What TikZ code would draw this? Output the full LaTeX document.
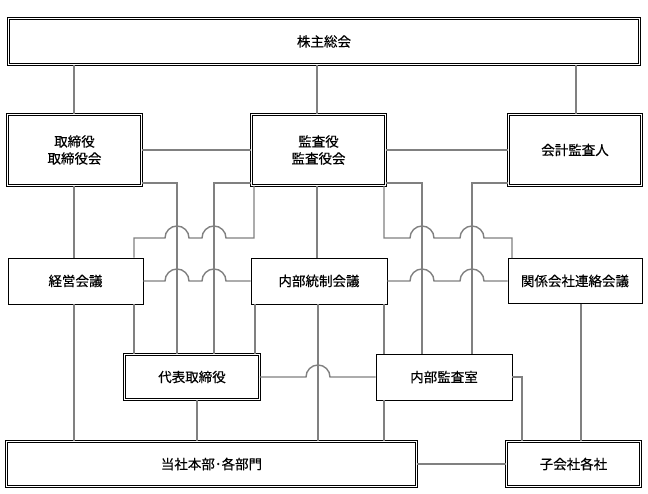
\documentclass[tikz,border=0pt]{standalone}
\usepackage{fontspec}
\setmainfont{Noto Sans CJK JP}[FakeBold=0.4]
\usepackage{tikz}
\usetikzlibrary{calc}

\begin{document}
\begin{tikzpicture}[x=1pt,y=-1pt,
  font=\fontsize{13.5}{17}\selectfont,
  dbox/.style={draw,double,double distance=1.6pt,line width=0.7pt,inner sep=0pt,align=center},
  sbox/.style={draw,line width=0.9pt,inner sep=0pt,align=center},
  conn/.style={draw=gray,line width=1.4pt}]
\useasboundingbox (0,0) rectangle (648,493);
% boxes
\node[dbox,minimum width=631,minimum height=46] (sh) at (324,41.5) {株主総会};
\node[dbox,minimum width=134,minimum height=71] (tb) at (74.5,150) {取締役\\取締役会};
\node[dbox,minimum width=134,minimum height=71] (ka) at (318.5,150) {監査役\\監査役会};
\node[dbox,minimum width=133,minimum height=71] (kk) at (575,150) {会計監査人};
\node[sbox,minimum width=135,minimum height=46] (kg) at (75.5,281) {経営会議};
\node[sbox,minimum width=136,minimum height=46] (nt) at (319,281) {内部統制会議};
\node[sbox,minimum width=134,minimum height=45] (kr) at (575,281) {関係会社連絡会議};
\node[dbox,minimum width=135,minimum height=45] (dt) at (192,377) {代表取締役};
\node[sbox,minimum width=136,minimum height=46] (nk) at (444,377) {内部監査室};
\node[dbox,minimum width=410,minimum height=45] (ts) at (211.5,464) {当社本部･各部門};
\node[dbox,minimum width=134,minimum height=45] (kb) at (573.5,464) {子会社各社};
% from the top
\draw[conn] (74,0 |- sh.south) -- (74,0 |- tb.north);
\draw[conn] (317,0 |- sh.south) -- (317,0 |- ka.north);
\draw[conn] (576,0 |- sh.south) -- (576,0 |- kk.north);
\draw[conn] (tb.east) -- (ka.west);
\draw[conn] (ka.east) -- (kk.west);
% board and auditors downwards
\draw[conn] (tb.east |- 0,183) -| (177,0 |- dt.north);
\draw[conn] (ka.west |- 0,183) -| (214,0 |- dt.north);
\draw[conn] (ka.east |- 0,183) -| (422,0 |- nk.north);
\draw[conn] (kk.west |- 0,183) -| (472,0 |- nk.north);
\draw[conn] (254,0 |- ka.south) -- (254,238) -- (226,238)
  arc[start angle=0,end angle=180,radius=12pt] -- (189,238)
  arc[start angle=0,end angle=180,radius=12pt] -- (134,238) -- (134,0 |- kg.north);
\draw[conn] (384,0 |- ka.south) -- (384,238) -- (410,238)
  arc[start angle=180,end angle=0,radius=12pt] -- (460,238)
  arc[start angle=180,end angle=0,radius=12pt] -- (512,238) -- (512,0 |- kr.north);
\draw[conn] (317,0 |- ka.south) -- (317,0 |- nt.north);
\draw[conn] (74,0 |- tb.south) -- (74,0 |- kg.north);
% meetings
\draw[conn] (kg.east) -- (165,0 |- kg.east)
  arc[start angle=180,end angle=0,radius=12pt] -- (202,0 |- kg.east)
  arc[start angle=180,end angle=0,radius=12pt] -- (nt.west);
\draw[conn] (nt.east) -- (410,0 |- nt.east)
  arc[start angle=180,end angle=0,radius=12pt] -- (460,0 |- nt.east)
  arc[start angle=180,end angle=0,radius=12pt] -- (kr.west);
\draw[conn] (134,0 |- kg.south) -- (134,0 |- dt.north);
\draw[conn] (255,0 |- nt.south) -- (255,0 |- dt.north);
\draw[conn] (384,0 |- nt.south) -- (384,0 |- nk.north);
\draw[conn] (74,0 |- kg.south) -- (74,0 |- ts.north);
\draw[conn] (318,0 |- nt.south) -- (318,0 |- ts.north);
\draw[conn] (581,0 |- kr.south) -- (581,0 |- kb.north);
% lower row
\draw[conn] (dt.east) -- (306,0 |- dt.east)
  arc[start angle=180,end angle=0,radius=12pt] -- (nk.west);
\draw[conn] (197,0 |- dt.south) -- (197,0 |- ts.north);
\draw[conn] (384,0 |- nk.south) -- (384,0 |- ts.north);
\draw[conn] (nk.east) -| (522,0 |- kb.north);
\draw[conn] (ts.east) -- (kb.west);
\end{tikzpicture}
\end{document}
